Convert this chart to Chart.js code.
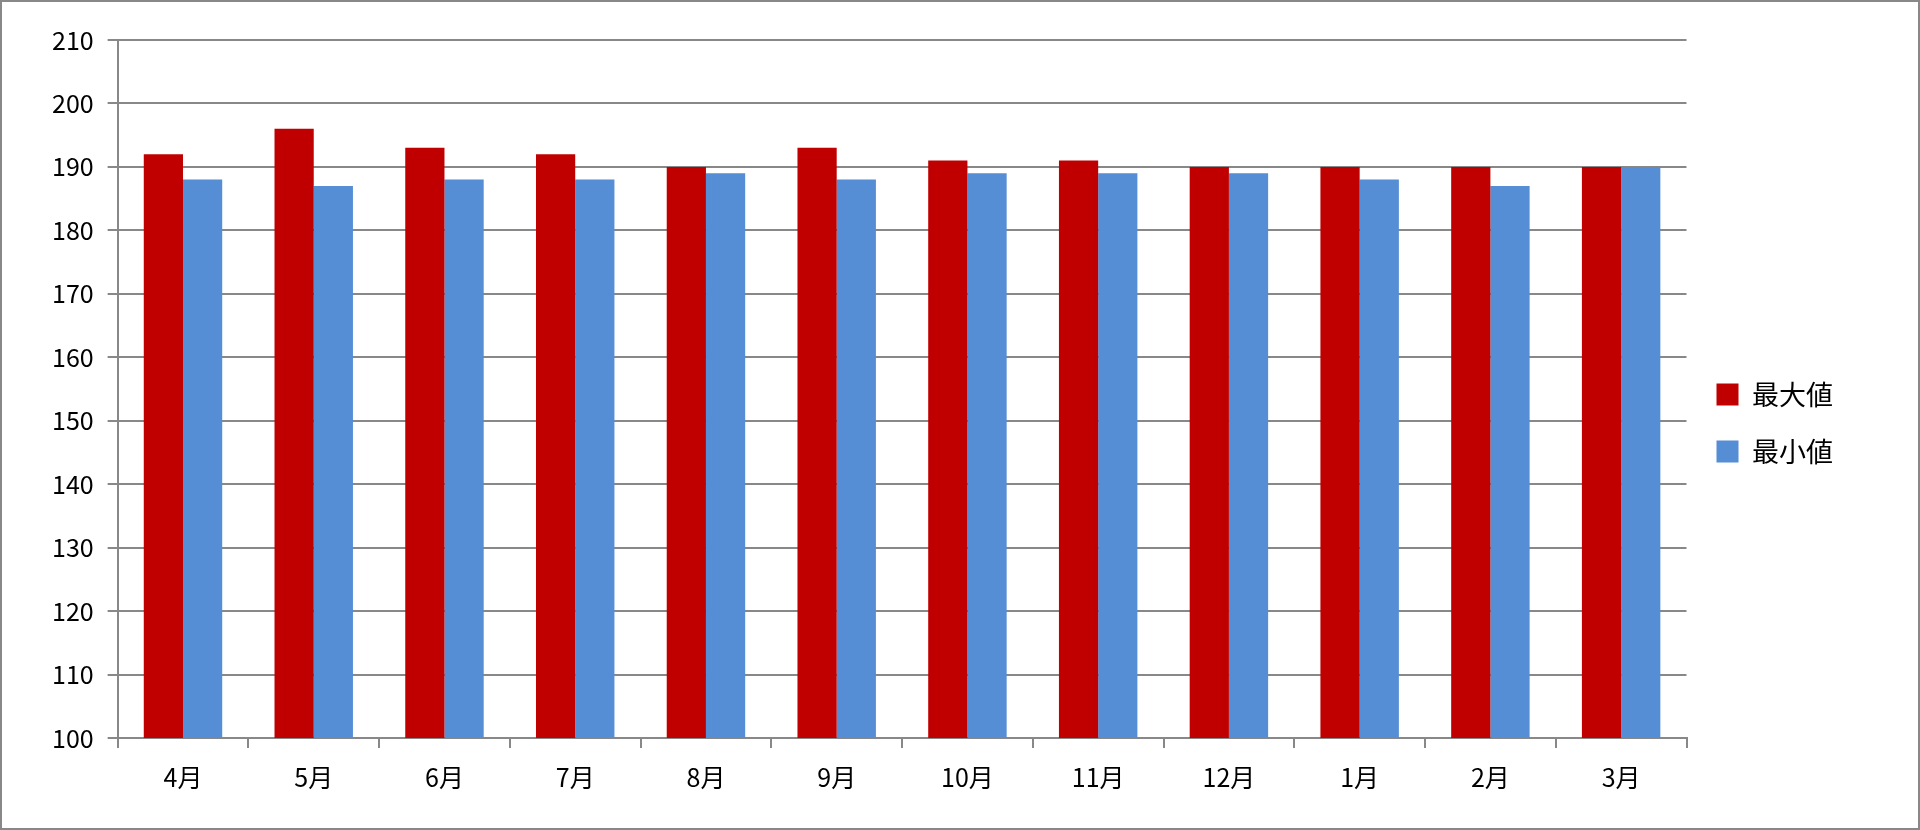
<!DOCTYPE html>
<html><head><meta charset="utf-8">
<script src="https://cdn.jsdelivr.net/npm/chart.js@4"></script>
<style>
html,body{margin:0;padding:0;background:#fff;}
#wrap{position:absolute;left:0;top:0;width:1916px;height:826px;border:2px solid #888;}
</style></head>
<body><div id="wrap"><canvas id="chart1"></canvas></div>
<script>
var months = ['4月','5月','6月','7月','8月','9月','10月','11月','12月','1月','2月','3月'];
var maxVals = [192,196,193,192,190,193,191,191,190,190,190,190];
var minVals = [188,187,188,188,189,188,189,189,189,188,187,190];

Chart.defaults.font.family = "'Noto Sans CJK JP', 'Liberation Sans', sans-serif";
Chart.defaults.color = '#000';

let ctx = document.getElementById('chart1').getContext('2d');
let barChart = new Chart(ctx, {
  type: 'bar',
  data: {
    labels: months,
    datasets: [
      { label: '最大値', data: maxVals, backgroundColor: '#C00000' },
      { label: '最小値', data: minVals, backgroundColor: '#558ED5' }
    ]
  },
  options: {
    responsive: true,
    maintainAspectRatio: false,
    animation: false,
    categoryPercentage: 0.6,
    barPercentage: 1.0,
    layout: { padding: { left: 36, top: 38, right: 30, bottom: 22 } },
    plugins: {
      legend: {
        position: 'right',
        labels: { font: { size: 27 }, boxWidth: 22, boxHeight: 22, padding: 30 }
      },
      tooltip: { enabled: false }
    },
    scales: {
      x: {
        grid: { offset: true, color: '#888', drawOnChartArea: false, tickLength: 10, lineWidth: 2 },
        border: { color: '#888', width: 2 },
        ticks: { font: { size: 25 }, padding: 14 }
      },
      y: {
        min: 100, max: 210,
        ticks: { stepSize: 10, font: { size: 25 }, padding: 14 },
        grid: { color: '#888', lineWidth: 2, tickLength: 10 },
        border: { color: '#888', width: 2 },
        afterFit: function (s) { s.width = s.width; }
      }
    }
  },
  plugins: [{
    id: 'legendGap',
    beforeInit: function (chart) {
      const origFit = chart.legend.fit;
      chart.legend.fit = function () { origFit.bind(chart.legend)(); this.width += 45; };
    }
  }]
});
</script></body></html>
